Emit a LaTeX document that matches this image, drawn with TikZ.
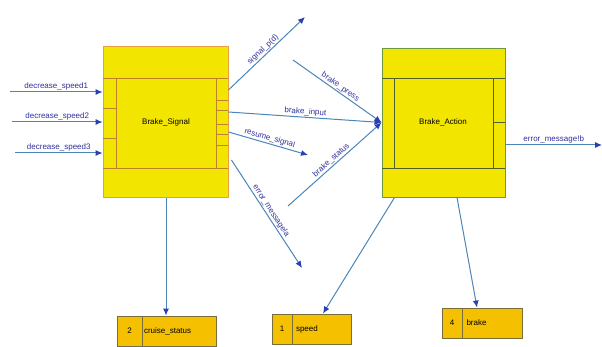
\documentclass[tikz,border=0pt]{standalone}
\usepackage{fontspec}
\setmainfont{Liberation Sans}
\usetikzlibrary{arrows.meta}
\definecolor{procfill}{RGB}{242,230,0}
\definecolor{storefill}{RGB}{245,192,0}
\definecolor{sigedge}{RGB}{232,160,64}
\definecolor{sigline}{RGB}{190,130,40}
\definecolor{actedge}{RGB}{110,150,60}
\definecolor{actline}{RGB}{80,95,45}
\definecolor{storeedge}{RGB}{120,110,60}
\definecolor{wire}{RGB}{74,134,184}
\definecolor{tip}{RGB}{42,64,176}
\definecolor{lbl}{RGB}{48,48,160}
\tikzset{
  procbox/.style={draw, line width=0.9pt, fill=procfill, font=\fontsize{8}{9}\selectfont},
  cell/.style={draw=storeedge, line width=0.9pt, fill=storefill, minimum height=30pt, inner sep=0pt, font=\fontsize{8}{9}\selectfont},
  flow/.style={draw=wire, line width=1pt, -{Latex[length=7pt,width=6pt,color=tip]}},
  flowlabel/.style={text=lbl, font=\fontsize{8}{9}\selectfont, inner sep=1pt, sloped, above}
}
\begin{document}
\begin{tikzpicture}[x=1pt,y=-1pt]
  \useasboundingbox[fill=white] (0,0) rectangle (602,347);

  % processes
  \node[procbox, draw=sigedge, minimum width=125pt, minimum height=151pt] (bs) at (165.5,122) {};
  \node[procbox, draw=actedge, minimum width=123pt, minimum height=149pt] (ba) at (443.5,122.5) {};

  % compartments of Brake_Signal
  \begin{scope}[draw=sigline, line width=0.8pt]
    \draw (103,78) -- (228,78);
    \draw (103,168) -- (228,168);
    \draw (116,78) -- (116,168);
    \draw (216,78) -- (216,168);
    \foreach \yy in {108,138} \draw (103,\yy) -- (116,\yy);
    \foreach \yy in {100,110,124,134,145} \draw (216,\yy) -- (228,\yy);
  \end{scope}
  \node[font=\fontsize{8}{9}\selectfont] (bsname) at (166,122) {Brake\_Signal};

  % compartments of Brake_Action
  \begin{scope}[draw=actline, line width=0.8pt]
    \draw (382,78) -- (505,78);
    \draw (382,168) -- (505,168);
    \draw (394,78) -- (394,168);
    \draw (493,78) -- (493,168);
    \draw (493,122) -- (505,122);
  \end{scope}
  \node[font=\fontsize{8}{9}\selectfont] (baname) at (443,122) {Brake\_Action};

  % data stores
  \node[cell, minimum width=25pt] (n2) at (129.5,331) {2};
  \node[cell, minimum width=74pt, text width=70pt, align=left] (cs) at (179,331) {cruise\_status};
  \node[cell, minimum width=20pt] (n1) at (282,329) {1};
  \node[cell, minimum width=59pt, text width=51pt, align=left] (spd) at (321.5,329) {speed};
  \node[cell, minimum width=20pt] (n4) at (452,323) {4};
  \node[cell, minimum width=60pt, text width=51pt, align=left] (bk) at (492,323) {brake};

  % free ends of the flows
  \coordinate (in1) at (10,92);
  \coordinate (in2) at (12,122);
  \coordinate (in3) at (15,153);
  \coordinate (sp) at (305,17);
  \coordinate (pr) at (293,60);
  \coordinate (rs) at (308,155);
  \coordinate (st) at (288,206);
  \coordinate (em) at (302,268);
  \coordinate (eb) at (602,145);

  % inputs of Brake_Signal
  \draw[flow] (in1) -- node[flowlabel] {decrease\_speed1} (bs.west |- in1);
  \draw[flow] (in2) -- node[flowlabel] {decrease\_speed2} (bs.west |- in2);
  \draw[flow] (in3) -- node[flowlabel] {decrease\_speed3} (bs.west |- in3);

  % outputs of Brake_Signal
  \draw[flow] ([yshift=32pt]bs.east) -- node[flowlabel] {signal\_p(d)} (sp);
  \draw[flow] ([yshift=10pt]bs.east) -- node[flowlabel] {brake\_input} (ba.west);
  \draw[flow] ([yshift=-10pt]bs.east) -- node[flowlabel] {resume\_signal} (rs);
  \draw[flow] ([xshift=3pt,yshift=-38pt]bs.east) -- node[flowlabel] {error\_message!a} (em);

  % other inputs of Brake_Action
  \draw[flow] (pr) -- node[flowlabel] {brake\_press} (ba.west);
  \draw[flow] (st) -- node[flowlabel] {brake\_status} (ba.west);

  % output of Brake_Action
  \draw[flow] (ba.east |- eb) -- node[flowlabel] {error\_message!b} (eb);

  % links to the data stores
  \draw[flow] ([xshift=0.5pt]bs.south) -- ([xshift=0.5pt]bs.south |- cs.north);
  \draw[flow] ([xshift=13pt]ba.south west) -- ([xshift=1.5pt]spd.north);
  \draw[flow] ([xshift=13.5pt]ba.south) -- ([xshift=-15pt]bk.north);
\end{tikzpicture}
\end{document}
